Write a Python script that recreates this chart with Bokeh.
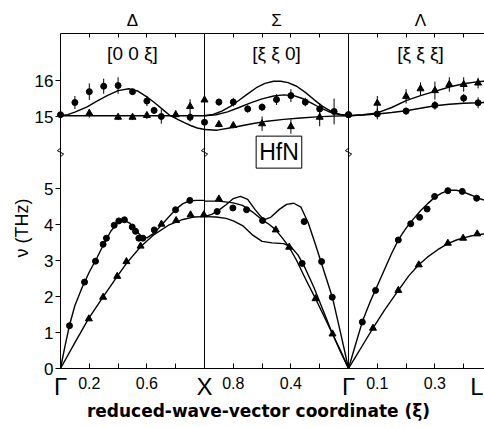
import math
from bokeh.plotting import figure
from bokeh.models import FixedTicker, LinearAxis, Label, Range1d
from bokeh.embed import file_html
from bokeh.resources import INLINE

# ---------------- data: frequency nu (THz) vs reduced wave vector xi ----------------
# Lower panel (acoustic branches)
delta_la_curve_xi = [0, 0.03, 0.0625, 0.1, 0.15, 0.2, 0.25, 0.3, 0.35, 0.4, 0.44, 0.48, 0.52, 0.56, 0.6, 0.65, 0.7, 0.75, 0.8, 0.85, 0.9, 0.95, 1.0]
delta_la_curve_nu = [0, 0.6, 1.2, 1.75, 2.25, 2.68, 3.05, 3.45, 3.82, 4.06, 4.12, 4.04, 3.85, 3.68, 3.63, 3.76, 3.98, 4.2, 4.42, 4.58, 4.66, 4.67, 4.67]
delta_ta_curve_xi = [0, 0.1, 0.197, 0.296, 0.394, 0.458, 0.556, 0.65, 0.75, 0.85, 0.93, 1.0]
delta_ta_curve_nu = [0, 0.72, 1.40, 1.99, 2.56, 2.92, 3.38, 3.72, 3.98, 4.14, 4.21, 4.22]
delta_circ_xi = [0.0625, 0.167, 0.243, 0.296, 0.319, 0.373, 0.405, 0.444, 0.498, 0.521, 0.544, 0.572, 0.651, 0.799, 0.898]
delta_circ_nu = [1.19, 2.40, 2.98, 3.45, 3.62, 3.98, 4.10, 4.13, 3.93, 3.81, 3.62, 3.62, 3.85, 4.41, 4.67]
delta_tri_xi = [0.197, 0.296, 0.394, 0.458, 0.556, 0.701, 0.803, 0.903, 0.995]
delta_tri_nu = [1.38, 1.98, 2.56, 2.97, 3.40, 4.01, 4.11, 4.27, 4.27]

sigma_a_xi = [1.0, 0.95, 0.91, 0.85, 0.80, 0.75, 0.70, 0.65, 0.59, 0.54, 0.48, 0.43, 0.38, 0.33, 0.28, 0.23, 0.19, 0.15, 0.11, 0.05, 0.0]
sigma_a_nu = [4.22, 4.28, 4.37, 4.55, 4.72, 4.78, 4.70, 4.42, 4.13, 4.20, 4.42, 4.56, 4.59, 4.48, 4.05, 3.45, 2.95, 2.45, 1.95, 0.9, 0]
sigma_b_xi = [1.0, 0.90, 0.80, 0.736, 0.67, 0.60, 0.55, 0.505, 0.46, 0.412, 0.36, 0.30, 0.229, 0.17, 0.111, 0.05, 0.0]
sigma_b_nu = [4.65, 4.65, 4.60, 4.53, 4.36, 4.13, 4.0, 3.85, 3.63, 3.37, 3.0, 2.5, 1.94, 1.45, 0.96, 0.45, 0]
sigma_c_xi = [1.0, 0.92, 0.85, 0.80, 0.736, 0.67, 0.60, 0.53, 0.45, 0.40, 0.35, 0.30, 0.24, 0.18, 0.12, 0.06, 0.0]
sigma_c_nu = [4.22, 4.21, 4.17, 4.10, 3.97, 3.72, 3.53, 3.49, 3.47, 3.38, 3.15, 2.78, 2.25, 1.65, 1.05, 0.5, 0]
sigma_circ_xi = [0.912, 0.803, 0.708, 0.597, 0.322, 0.308, 0.187, 0.113]
sigma_circ_nu = [4.36, 4.46, 4.41, 4.11, 2.92, 4.08, 2.97, 1.98]
sigma_tri_xi = [0.90, 0.505, 0.412, 0.229, 0.111]
sigma_tri_nu = [4.71, 3.85, 3.37, 1.94, 0.96]

lambda_la_xi = [0, 0.025, 0.05, 0.075, 0.1, 0.125, 0.15, 0.175, 0.2, 0.225, 0.25, 0.275, 0.3, 0.325, 0.35, 0.375, 0.4, 0.425, 0.45, 0.475]
lambda_la_nu = [0, 0.68, 1.35, 1.85, 2.30, 2.75, 3.2, 3.6, 3.9, 4.15, 4.38, 4.58, 4.76, 4.88, 4.95, 4.95, 4.9, 4.82, 4.73, 4.67]
lambda_ta_xi = [0, 0.025, 0.05, 0.085, 0.125, 0.173, 0.21, 0.244, 0.275, 0.31, 0.345, 0.375, 0.4, 0.425, 0.45, 0.475]
lambda_ta_nu = [0, 0.33, 0.66, 1.12, 1.62, 2.17, 2.58, 2.88, 3.1, 3.3, 3.47, 3.57, 3.63, 3.68, 3.72, 3.74]
lambda_circ_xi = [0.048, 0.094, 0.173, 0.216, 0.247, 0.273, 0.299, 0.345, 0.395, 0.445]
lambda_circ_nu = [1.29, 2.17, 3.57, 4.02, 4.20, 4.43, 4.78, 4.94, 4.92, 4.73]
lambda_tri_xi = [0.085, 0.173, 0.244, 0.345, 0.398, 0.447]
lambda_tri_nu = [1.12, 2.17, 2.88, 3.48, 3.62, 3.74]

# Upper panel (optic branches, ~15 THz)
up_delta_flat_xi = [0, 1.0]
up_delta_flat_nu = [15.02, 15.02]
up_delta_bump_xi = [0, 0.05, 0.1, 0.185, 0.25, 0.324, 0.4, 0.474, 0.54, 0.602, 0.66, 0.717, 0.76, 0.81, 0.86, 0.903, 0.95, 1.0]
up_delta_bump_nu = [15.02, 15.05, 15.12, 15.27, 15.42, 15.58, 15.72, 15.77, 15.7, 15.54, 15.36, 15.17, 15.03, 14.93, 14.83, 14.75, 14.68, 14.64]
up_sigma_top_xi = [1.0, 0.94, 0.88, 0.82, 0.76, 0.70, 0.64, 0.58, 0.52, 0.47, 0.42, 0.36, 0.30, 0.24, 0.18, 0.12, 0.06, 0.0]
up_sigma_top_nu = [15.02, 15.06, 15.15, 15.28, 15.45, 15.63, 15.8, 15.92, 15.98, 15.98, 15.94, 15.84, 15.67, 15.47, 15.28, 15.14, 15.06, 15.02]
up_sigma_mid_xi = [1.0, 0.92, 0.84, 0.76, 0.68, 0.60, 0.52, 0.45, 0.38, 0.32, 0.26, 0.20, 0.14, 0.08, 0.0]
up_sigma_mid_nu = [15.02, 15.05, 15.13, 15.25, 15.38, 15.49, 15.57, 15.60, 15.58, 15.50, 15.38, 15.25, 15.14, 15.07, 15.02]
up_sigma_low_xi = [1.0, 0.912, 0.796, 0.68, 0.565, 0.45, 0.333, 0.22, 0.11, 0.0]
up_sigma_low_nu = [14.64, 14.62, 14.70, 14.79, 14.87, 14.92, 14.96, 14.99, 15.01, 15.02]
up_lambda_xi = [0, 0.05, 0.1, 0.15, 0.2, 0.25, 0.3, 0.35, 0.4, 0.45, 0.475]
up_lambda_low_nu = [15.02, 15.04, 15.07, 15.11, 15.16, 15.23, 15.3, 15.34, 15.37, 15.38, 15.39]
up_lambda_high_nu = [15.02, 15.05, 15.1, 15.25, 15.44, 15.58, 15.7, 15.82, 15.91, 15.97, 15.98]

up_delta_circ_xi = [0, 0.1, 0.2, 0.3, 0.4, 0.5, 0.6, 0.65, 0.7, 0.9, 1.0]
up_delta_circ_nu = [15.05, 15.39, 15.69, 15.84, 15.86, 15.69, 15.43, 15.17, 15.0, 14.98, 14.84]
up_delta_circ_err = [0.05, 0.18, 0.23, 0.21, 0.23, 0.07, 0.14, 0.10, 0.2, 0.12, 0.18]
up_delta_tri_xi = [0.2, 0.4, 0.5, 0.6, 0.8, 0.9, 1.0]
up_delta_tri_nu = [15.09, 14.98, 14.98, 15.03, 15.05, 15.28, 15.46]
up_delta_tri_err = [0.12, 0.08, 0.08, 0.1, 0.12, 0.2, 0.15]
up_sigma_circ_xi = [0.9, 0.8, 0.7, 0.6, 0.5, 0.4, 0.3, 0.2, 0.1, 0.0]
up_sigma_circ_nu = [15.40, 15.40, 15.21, 15.26, 15.47, 15.58, 15.40, 15.21, 15.14, 15.05]
up_sigma_circ_err = [0.1, 0.12, 0.1, 0.1, 0.15, 0.18, 0.12, 0.15, 0.36, 0.1]
up_sigma_tri_xi = [0.9, 0.8, 0.6, 0.4, 0.2]
up_sigma_tri_nu = [14.78, 14.75, 14.8, 14.72, 14.98]
up_sigma_tri_err = [0.08, 0.08, 0.2, 0.2, 0.25]
up_lambda_circ_xi = [0, 0.1, 0.2, 0.3, 0.4, 0.45]
up_lambda_circ_nu = [15.05, 15.07, 15.15, 15.31, 15.51, 15.38]
up_lambda_circ_err = [0.1, 0.15, 0.1, 0.12, 0.12, 0.15]
up_lambda_tri_xi = [0.1, 0.2, 0.25, 0.3, 0.35, 0.4, 0.45]
up_lambda_tri_nu = [15.37, 15.56, 15.77, 15.72, 15.89, 15.89, 15.93]
up_lambda_tri_err = [0.2, 0.2, 0.18, 0.25, 0.2, 0.2, 0.15]

# axis labelling
y_ticks_lower = [0, 1, 2, 3, 4, 5]
y_ticks_upper = [15, 16]
x_tick_xi = {"delta": [0.2, 0.4, 0.6, 0.8], "sigma": [0.8, 0.6, 0.4, 0.2], "lambda": [0.1, 0.2, 0.3, 0.4]}
x_tick_labelled = {"delta": [0.2, 0.6], "sigma": [0.8, 0.4], "lambda": [0.1, 0.3]}
point_names = ["Γ", "X", "Γ", "L"]
dir_names = ["Δ", "Σ", "Λ"]
dir_vectors = ["[0 0 ξ]", "[ξ ξ 0]", "[ξ ξ ξ]"]

# ---------------- coordinate helpers ----------------
UPPER_SHIFT = 8.0      # upper (optic) panel drawn 8 THz lower -> broken axis
BREAK_Y = 6.0
Y_TOP = 9.3
X_END = 2.944
SEG = {"delta": lambda xi: xi, "sigma": lambda xi: 2.0 - xi, "lambda": lambda xi: 2.0 + 2.0 * xi}

def X(seg, xis):
    return [round(SEG[seg](v), 6) for v in xis]

def Y(nus, upper=False):
    return [v - UPPER_SHIFT if upper else v for v in nus]

FONT = "Liberation Sans"
W, H = 484, 427
# frame covers the whole canvas; axes are pinned at fixed data locations
p = figure(width=W, height=H, x_range=Range1d(-60 / 144, (W - 60) / 144),
           y_range=Range1d((368 - H) / 36, 368 / 36),
           output_backend="svg", toolbar_location=None,
           min_border=0, min_border_left=0, min_border_right=0, min_border_top=0, min_border_bottom=0)
p.xgrid.visible = False
p.ygrid.visible = False
p.outline_line_color = None
p.xaxis.visible = False
p.yaxis.visible = False

def style(ax, size):
    ax.major_label_text_font = FONT
    ax.major_label_text_font_size = size
    ax.major_label_text_color = "black"
    ax.axis_line_color = "black"
    ax.major_tick_line_color = "black"
    ax.minor_tick_line_color = None

# y axis
yt = y_ticks_lower + [v - UPPER_SHIFT for v in y_ticks_upper]
yax = LinearAxis(ticker=FixedTicker(ticks=yt), fixed_location=0, bounds=(0, Y_TOP),
                 major_tick_out=5, major_tick_in=0, major_label_standoff=2)
yax.major_label_overrides = {float(v - UPPER_SHIFT): str(v) for v in y_ticks_upper}
style(yax, "17px")
p.add_layout(yax, "left")

# x axis
xt, xover = [], {}
for seg in ["delta", "sigma", "lambda"]:
    for xi in x_tick_xi[seg]:
        pos = round(SEG[seg](xi), 6)
        xt.append(pos)
        xover[pos] = ("%.1f" % xi) if xi in x_tick_labelled[seg] else ""
xax = LinearAxis(ticker=FixedTicker(ticks=xt), fixed_location=0, bounds=(0, X_END),
                 major_tick_in=5, major_tick_out=0, major_label_standoff=8)
xax.major_label_overrides = xover
style(xax, "16px")
p.add_layout(xax, "below")

top = LinearAxis(ticker=FixedTicker(ticks=xt), fixed_location=Y_TOP, bounds=(0, X_END),
                 major_tick_in=4, major_tick_out=0, major_label_text_font_size="0px")
top.major_label_overrides = {k: "" for k in xt}
style(top, "0px")
p.add_layout(top, "above")

# symmetry-point vertical lines (X and Gamma)
p.segment([1.0, 2.0], [0, 0], [1.0, 2.0], [Y_TOP, Y_TOP], line_color="black", line_width=1)

# break marks
for loc in [0.0, 1.0, 2.0]:
    p.line([loc, loc, loc + 0.022, loc - 0.022, loc, loc],
           [BREAK_Y - 0.25, BREAK_Y - 0.12, BREAK_Y - 0.04, BREAK_Y + 0.05, BREAK_Y + 0.12, BREAK_Y + 0.25],
           line_color="black", line_width=1)

LW = 1.4
def curve(seg, xis, nus, upper=False):
    p.line(X(seg, xis), Y(nus, upper), line_color="black", line_width=LW)

def points(seg, xis, nus, marker, upper=False, err=None):
    xs = X(seg, xis)
    ys = Y(nus, upper)
    if err is not None:
        p.segment(xs, [y - e for y, e in zip(ys, err)], xs, [y + e for y, e in zip(ys, err)],
                  line_color="black", line_width=1)
    size = 6 if marker == "circle" else 7
    p.scatter(xs, ys, marker=marker, size=size, fill_color="black", line_color="black")

# lower panel curves
curve("delta", delta_la_curve_xi, delta_la_curve_nu)
curve("delta", delta_ta_curve_xi, delta_ta_curve_nu)
curve("sigma", sigma_a_xi, sigma_a_nu)
curve("sigma", sigma_b_xi, sigma_b_nu)
curve("sigma", sigma_c_xi, sigma_c_nu)
curve("lambda", lambda_la_xi, lambda_la_nu)
curve("lambda", lambda_ta_xi, lambda_ta_nu)
points("delta", delta_circ_xi, delta_circ_nu, "circle")
points("delta", delta_tri_xi, delta_tri_nu, "triangle")
points("sigma", sigma_circ_xi, sigma_circ_nu, "circle")
points("sigma", sigma_tri_xi, sigma_tri_nu, "triangle")
points("lambda", lambda_circ_xi, lambda_circ_nu, "circle")
points("lambda", lambda_tri_xi, lambda_tri_nu, "triangle")

# upper panel curves
curve("delta", up_delta_flat_xi, up_delta_flat_nu, True)
curve("delta", up_delta_bump_xi, up_delta_bump_nu, True)
curve("sigma", up_sigma_top_xi, up_sigma_top_nu, True)
curve("sigma", up_sigma_mid_xi, up_sigma_mid_nu, True)
curve("sigma", up_sigma_low_xi, up_sigma_low_nu, True)
curve("lambda", up_lambda_xi, up_lambda_low_nu, True)
curve("lambda", up_lambda_xi, up_lambda_high_nu, True)
points("delta", up_delta_circ_xi, up_delta_circ_nu, "circle", True, up_delta_circ_err)
points("delta", up_delta_tri_xi, up_delta_tri_nu, "triangle", True, up_delta_tri_err)
points("sigma", up_sigma_circ_xi, up_sigma_circ_nu, "circle", True, up_sigma_circ_err)
points("sigma", up_sigma_tri_xi, up_sigma_tri_nu, "triangle", True, up_sigma_tri_err)
points("lambda", up_lambda_circ_xi, up_lambda_circ_nu, "circle", True, up_lambda_circ_err)
points("lambda", up_lambda_tri_xi, up_lambda_tri_nu, "triangle", True, up_lambda_tri_err)

# texts
for i, name in enumerate(point_names):
    xpos = float(i) if i < 3 else X_END - 0.005
    align = "center" if i < 3 else "right"
    p.add_layout(Label(x=xpos, y=-0.5, text=name, text_font=FONT, text_font_size="24px",
                       text_align=align, text_baseline="middle", text_color="black"))
for i, (d, v) in enumerate(zip(dir_names, dir_vectors)):
    p.add_layout(Label(x=i + 0.5, y=9.667, text=d, text_font=FONT, text_color="black",
                       text_font_size="17px", text_align="center", text_baseline="middle"))
    p.add_layout(Label(x=i + 0.5, y=8.75, text=v, text_font=FONT, text_font_size="19px",
                       text_color="black", text_align="center", text_baseline="middle"))

p.add_layout(Label(x=1.517, y=6.01, text="HfN", text_font=FONT, text_font_size="23px",
                   text_color="black", text_align="center", text_baseline="middle",
                   border_line_color="black", border_line_width=1,
                   background_fill_color="white", padding=3))

p.add_layout(Label(x=-0.264, y=3.9, text="ν (THz)", angle=math.pi / 2,
                   text_font=FONT, text_font_size="18px", text_align="center",
                   text_color="black", text_baseline="middle"))
p.add_layout(Label(x=1.375, y=-1.167, text="reduced-wave-vector coordinate (ξ)",
                   text_font="DejaVu Sans", text_font_style="bold", text_font_size="17px",
                   text_color="black", text_align="center", text_baseline="middle"))

open("out.html", "w").write(file_html(p, INLINE))
